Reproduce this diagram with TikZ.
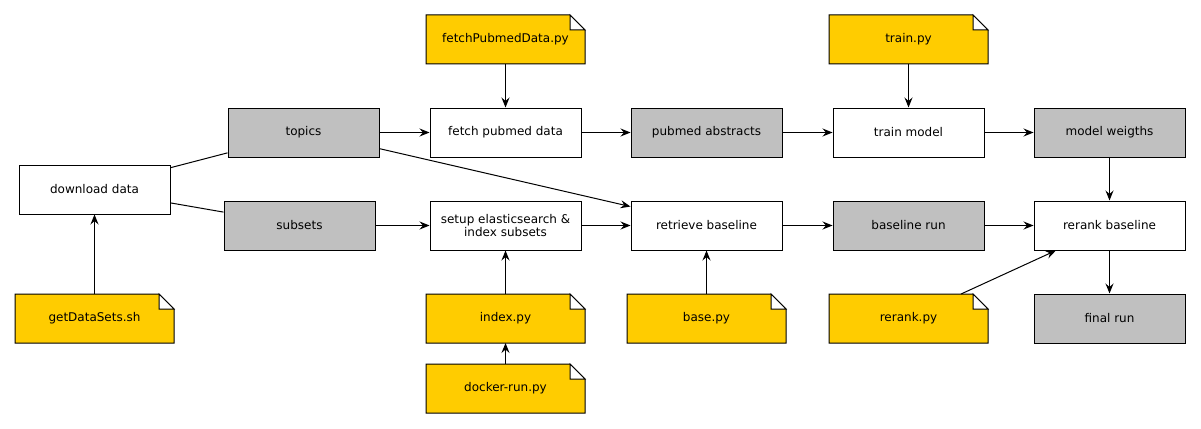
\documentclass[tikz,border=0pt]{standalone}
\usepackage{fontspec}
\setmainfont{DejaVu Sans}
\usetikzlibrary{arrows.meta}
\definecolor{scriptyellow}{HTML}{FFCC00}
\definecolor{datagray}{HTML}{C0C0C0}
% script file: yellow sheet with folded corner
\newcommand{\scriptnote}[3]{%
  \filldraw[fill=scriptyellow] (#2) ++(-79.5,24.5) -- ++(0,-49) -- ++(144,0) -- ++(15,15) -- ++(0,34) -- cycle;
  \filldraw[fill=white] (#2) ++(64.5,-24.5) |- ++(15,15) -- cycle;
  \draw (#2) node[scriptbox](#1){#3};
}
\begin{document}
\begin{tikzpicture}[x=1pt, y=-1pt, line width=1pt, font=\fontsize{12}{13.5}\selectfont,
    >={Stealth[length=10pt, width=8pt, inset=3.5pt]}]
        \useasboundingbox (0,0) rectangle (1201,428);
        \tikzset{process/.style={draw, fill=white, minimum width=151pt, minimum height=49pt, inner sep=2pt, align=center}}
        \tikzset{data/.style={process, fill=datagray}}
        \tikzset{scriptbox/.style={minimum width=159pt, minimum height=49pt, outer sep=0pt}}
        %
        \draw (94.5,189.5) node[process](DL){download data};
        \draw (303.5,132.5) node[data](TOP){topics};
        \draw (299.5,225.5) node[data](SUB){subsets};
        \draw (505.5,132.5) node[process](FET){fetch pubmed data};
        \draw (505.5,225.5) node[process](SET){setup elasticsearch \&\\index subsets};
        \draw (706.5,132.5) node[data](PUB){pubmed abstracts};
        \draw (706.5,225.5) node[process](RET){retrieve baseline};
        \draw (908.5,132.5) node[process](TRM){train model};
        \draw (908.5,225.5) node[data](BR){baseline run};
        \draw (1109.5,132.5) node[data](MW){model weigths};
        \draw (1109.5,225.5) node[process](RR){rerank baseline};
        \draw (1109.5,318.5) node[data](FR){final run};
        %
        \scriptnote{GDS}{94.5,318.5}{getDataSets.sh}
        \scriptnote{FPD}{505.5,39.5}{fetchPubmedData.py}
        \scriptnote{IDX}{505.5,318.5}{index.py}
        \scriptnote{DOC}{505.5,388.5}{docker-run.py}
        \scriptnote{BAS}{706.5,318.5}{base.py}
        \scriptnote{TPY}{908.5,39.5}{train.py}
        \scriptnote{RPY}{908.5,318.5}{rerank.py}
        %
        \draw (DL.16) -- (TOP.195);
        \draw (DL.-10) -- (SUB.170);
        \draw[->] (GDS) -- (DL);
        %
        \draw[->] (TOP) -- (FET);
        \draw[->] (TOP.-12) -- (RET.166);
        \draw[->] (SUB) -- (SET);
        \draw[->] (FPD) -- (FET);
        \draw[->] (DOC) -- (IDX);
        \draw[->] (IDX) -- (SET);
        \draw[->] (BAS) -- (RET);
        %
        \draw[->] (FET) -- (PUB);
        \draw[->] (PUB) -- (TRM);
        \draw[->] (SET) -- (RET);
        \draw[->] (RET) -- (BR);
        \draw[->] (TPY) -- (TRM);
        \draw[->] (TRM) -- (MW);
        \draw[->] (BR) -- (RR);
        \draw[->] (MW) -- (RR);
        \draw[->] (RPY.25) -- (RR.205);
        \draw[->] (RR) -- (FR);
    \end{tikzpicture}
\end{document}
